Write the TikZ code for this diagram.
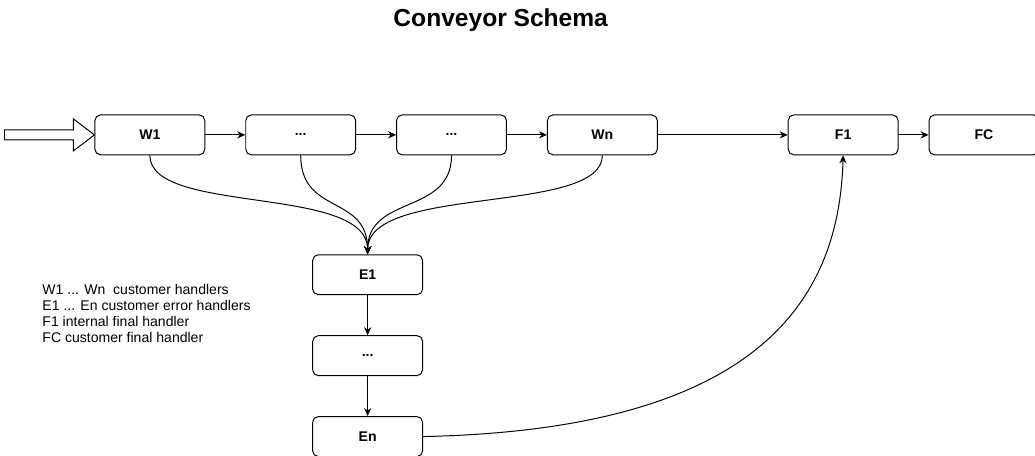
\documentclass[tikz,border=0pt]{standalone}
\usepackage{fontspec}
\setmainfont{Liberation Sans}
\usepackage{tikz}
\usetikzlibrary{shapes, arrows.meta, positioning, calc}

\begin{document}
\begin{tikzpicture}[
        line width=0.7pt,
        node distance=1cm,
        handler/.style={rectangle, draw, rounded corners=4pt, minimum width=2.75cm, minimum height=1cm, font=\fontsize{10}{12}\selectfont\bfseries},
        flow/.style={-{Stealth[length=2mm, width=1.8mm]}}
    ]
        \useasboundingbox (0,0) rectangle (25.9,-11.4);

        \node[font=\fontsize{17.5}{20}\selectfont\bfseries] (title) at (12.53,-0.5) {Conveyor Schema};

        % worker handlers
        \node[handler] (w1) at (3.75,-3.375) {W1};
        \node[handler, right=of w1] (wdots1) {...};
        \node[handler, right=of wdots1] (wdots2) {...};
        \node[handler, right=of wdots2] (wn) {Wn};
        \node[handler, right=3.25cm of wn] (f1) {F1};
        \node[handler, right=0.75cm of f1] (fc) {FC};

        % error handlers
        \node[handler] (e1) at (9.2,-6.875) {E1};
        \node[handler, below=of e1] (edots) {...};
        \node[handler, below=of edots] (en) {En};

        % input arrow
        \draw (w1.west) -- ++(-0.525,0.4) -- ++(0,-0.275) -- ++(-1.725,0) -- ++(0,-0.25)
              -- ++(1.725,0) -- ++(0,-0.275) -- cycle;

        \draw[flow] (w1) -- (wdots1);
        \draw[flow] (wdots1) -- (wdots2);
        \draw[flow] (wdots2) -- (wn);
        \draw[flow] (wn) -- (f1);
        \draw[flow] (f1) -- (fc);

        % errors go to E1
        \draw[flow] (w1.south) .. controls +(0,-1.5) and +(0,1.75) .. (e1.north);
        \draw[flow] (wdots1.south) .. controls +(0,-1.5) and +(0,1.5) .. (e1.north);
        \draw[flow] (wdots2.south) .. controls +(0,-1.5) and +(0,1.5) .. (e1.north);
        \draw[flow] (wn.south) .. controls +(0,-1.5) and +(0,1.75) .. (e1.north);

        \draw[flow] (e1) -- (edots);
        \draw[flow] (edots) -- (en);
        \draw[flow] (en.east) .. controls (19,-10.75) and (21,-7.5) .. (f1.south);

        % legend
        \node[anchor=north west, inner sep=0pt, align=left, font=\fontsize{10}{11.5}\selectfont] (legend) at (1.05,-7.1)
            {W1 ... Wn\ \ customer handlers\\E1 ... En customer error handlers\\F1 internal final handler\\FC customer final handler};
\end{tikzpicture}
\end{document}
